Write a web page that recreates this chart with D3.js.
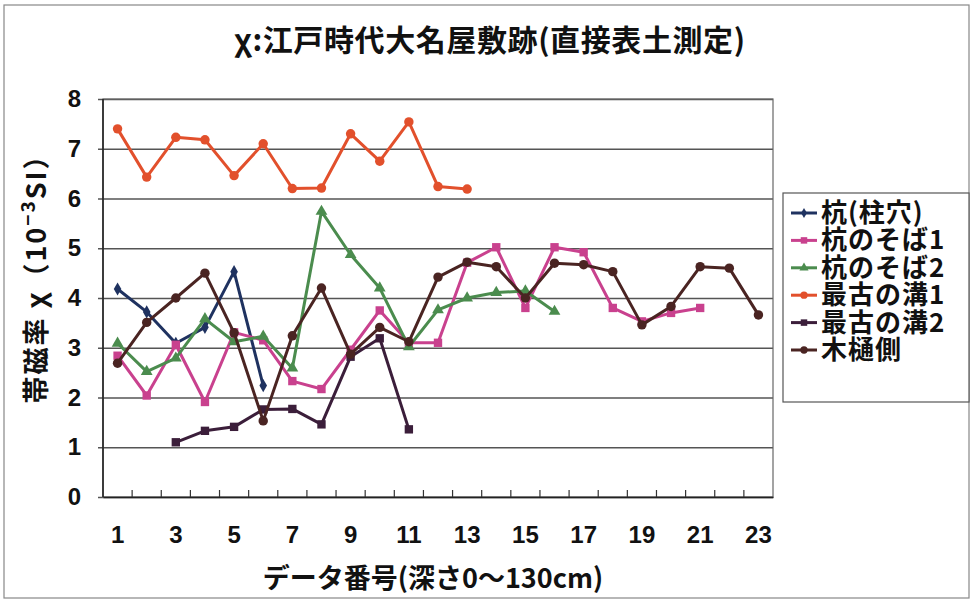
<!DOCTYPE html>
<html>
<head>
<meta charset="utf-8">
<script src="https://cdn.jsdelivr.net/npm/d3@7"></script>
<style>
  body { margin: 0; background: #fff; }
  text { font-family: "Liberation Sans Narrow", "Liberation Sans", Arial, sans-serif; font-weight: bold; }
  .jp { font-family: "Noto Sans CJK JP", sans-serif; font-weight: bold; }
</style>
</head>
<body>
<svg id="chart"></svg>
<script>
const width = 973;
const height = 603;
const margin = { top: 99, right: 200, bottom: 106, left: 103 };
const innerWidth = width - margin.left - margin.right;
const innerHeight = height - margin.top - margin.bottom;

const title = "χ:江戸時代大名屋敷跡(直接表土測定)";
const xLabel = "データ番号(深さ0～130cm)";

// data number 1..23
const categories = d3.range(1, 24);
const xTickLabels = [1, 3, 5, 7, 9, 11, 13, 15, 17, 19, 21, 23];
const yTicks = [0, 1, 2, 3, 4, 5, 6, 7, 8];

// values per series (null = no data)
const kui = [4.18, 3.72, 3.09, 3.41, 4.53, 2.24];
const kuiSoba1 = [2.84, 2.04, 3.06, 1.91, 3.31, 3.15, 2.33, 2.17, 2.96, 3.75, 3.10, 3.10,
  4.71, 5.02, 3.80, 5.02, 4.92, 3.80, 3.53, 3.70, 3.80];
const kuiSoba2 = [3.09, 2.52, 2.79, 3.58, 3.12, 3.23, 2.59, 5.74, 4.87, 4.20, 3.02, 3.76,
  4.00, 4.11, 4.14, 3.73];
const mizo1 = [7.40, 6.43, 7.23, 7.18, 6.46, 7.10, 6.20, 6.21, 7.30, 6.75, 7.54, 6.24, 6.19];
const mizo2 = [null, null, 1.10, 1.33, 1.41, 1.76, 1.77, 1.46, 2.82, 3.19, 1.36];
const mokuhi = [2.69, 3.51, 4.00, 4.50, 3.30, 1.53, 3.24, 4.20, 2.87, 3.41, 3.12, 4.42,
  4.72, 4.63, 4.00, 4.70, 4.67, 4.53, 3.46, 3.83, 4.63, 4.60, 3.66];

const series = [
  { name: "杭(柱穴)", values: kui, color: "#1f3260", marker: "diamond" },
  { name: "杭のそば1", values: kuiSoba1, color: "#c9418e", marker: "square" },
  { name: "杭のそば2", values: kuiSoba2, color: "#4b8c4e", marker: "triangle" },
  { name: "最古の溝1", values: mizo1, color: "#e2502c", marker: "circle" },
  { name: "最古の溝2", values: mizo2, color: "#3b1e3a", marker: "square" },
  { name: "木樋側", values: mokuhi, color: "#4a2422", marker: "circle" }
];

const svg = d3.select("#chart").attr("width", width).attr("height", height);

// outer frame
svg.append("rect")
  .attr("x", 4).attr("y", 5)
  .attr("width", width - 8).attr("height", height - 10)
  .attr("fill", "#fff").attr("stroke", "#888").attr("stroke-width", 1.2);

const xScale = d3.scaleBand().domain(categories).range([0, innerWidth]);
const yScale = d3.scaleLinear().domain([0, 8]).range([innerHeight, 0]);

const g = svg.append("g").attr("transform", `translate(${margin.left},${margin.top})`);

// gridlines
const yAxis = d3.axisLeft(yScale).tickValues(yTicks).tickSize(-innerWidth).tickPadding(22);
const yAxisG = g.append("g").call(yAxis);
yAxisG.select(".domain").remove();
yAxisG.selectAll(".tick line").attr("stroke", "#555").attr("stroke-width", 1.4)
  .attr("x1", -5);
yAxisG.selectAll(".tick text").attr("font-size", 24).attr("fill", "#111");

// plot border
g.append("rect").attr("width", innerWidth).attr("height", innerHeight)
  .attr("fill", "none").attr("stroke", "#666").attr("stroke-width", 1.2);
g.append("line").attr("y2", innerHeight).attr("stroke", "#222").attr("stroke-width", 1.6);

// x axis
const xAxis = d3.axisBottom(xScale)
  .tickValues(xTickLabels)
  .tickSize(0)
  .tickPadding(29);
const xAxisG = g.append("g").attr("transform", `translate(0,${innerHeight})`).call(xAxis);
xAxisG.select(".domain").attr("stroke", "#222").attr("stroke-width", 1.6);
xAxisG.selectAll(".tick text").attr("font-size", 24).attr("fill", "#111");

// category boundary ticks (inside)
g.append("g").selectAll("line")
  .data(categories.slice(1))
  .join("line")
  .attr("x1", (d) => xScale(d)).attr("x2", (d) => xScale(d))
  .attr("y1", innerHeight).attr("y2", innerHeight - 7)
  .attr("stroke", "#333").attr("stroke-width", 1.2);

const xPos = (i) => xScale(categories[i]) + xScale.bandwidth() / 2;

const line = d3.line()
  .defined((d) => d != null)
  .x((d, i) => xPos(i))
  .y((d) => yScale(d));

const symbolOf = {
  diamond: d3.symbolDiamond,
  square: d3.symbolSquare,
  triangle: d3.symbolTriangle,
  circle: d3.symbolCircle
};
const sizeOf = { diamond: 50, square: 70, triangle: 60, circle: 70 };

series.forEach((s) => {
  g.append("path")
    .datum(s.values)
    .attr("fill", "none")
    .attr("stroke", s.color)
    .attr("stroke-width", 3)
    .attr("stroke-linejoin", "round")
    .attr("d", line);

  g.append("g").selectAll("path")
    .data(s.values.map((v, i) => ({ v, i })).filter((d) => d.v != null))
    .join("path")
    .attr("transform", (d) => `translate(${xPos(d.i)},${yScale(d.v)})`)
    .attr("d", d3.symbol(symbolOf[s.marker], sizeOf[s.marker]))
    .attr("fill", s.color);
});

// title
svg.append("text")
  .attr("class", "jp")
  .attr("x", 490).attr("y", 51)
  .attr("text-anchor", "middle")
  .attr("font-size", 30)
  .attr("letter-spacing", 0.6)
  .attr("fill", "#111")
  .text(title);

// x axis label
svg.append("text")
  .attr("class", "jp")
  .attr("x", 433).attr("y", 588)
  .attr("text-anchor", "middle")
  .attr("font-size", 27)
  .attr("fill", "#111")
  .text(xLabel);

// y axis label
const yl = svg.append("text")
  .attr("class", "jp")
  .attr("transform", `translate(46,272) rotate(-90)`)
  .attr("text-anchor", "middle")
  .attr("font-size", 27)
  .attr("letter-spacing", 2)
  .attr("fill", "#111");
yl.append("tspan").text("帯磁率 χ（10");
yl.append("tspan").attr("dy", -11).attr("font-size", 19).text("−3");
yl.append("tspan").attr("dy", 11).text("SI）");

// legend
const legend = svg.append("g").attr("transform", "translate(783,193)");
legend.append("rect").attr("width", 186).attr("height", 209)
  .attr("fill", "#fff").attr("stroke", "#555").attr("stroke-width", 1.2);

const items = legend.selectAll("g.item")
  .data(series)
  .join("g")
  .attr("class", "item")
  .attr("transform", (d, i) => `translate(0,${20 + i * 27.4})`);
items.append("line")
  .attr("x1", 8).attr("x2", 34)
  .attr("stroke", (d) => d.color).attr("stroke-width", 3);
items.append("path")
  .attr("transform", "translate(21,0)")
  .attr("d", (d) => d3.symbol(symbolOf[d.marker], sizeOf[d.marker] * 0.6)())
  .attr("fill", (d) => d.color);
items.append("text")
  .attr("class", "jp")
  .attr("x", 38).attr("y", 9)
  .attr("font-size", 26)
  .attr("letter-spacing", 1)
  .attr("fill", "#111")
  .text((d) => d.name);
</script>
</body>
</html>
